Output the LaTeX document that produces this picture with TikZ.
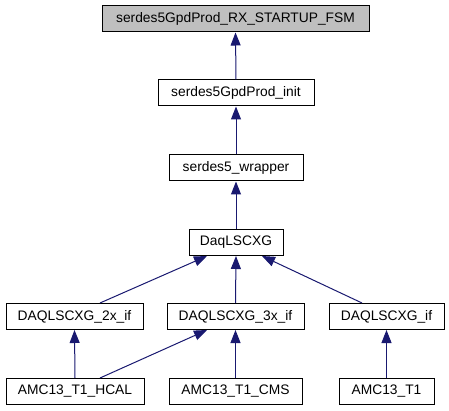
\documentclass[tikz,border=0pt]{standalone}
\usepackage{fontspec}
\setmainfont{Liberation Sans}
\usetikzlibrary{arrows.meta}
\definecolor{edgecol}{HTML}{191970}
\definecolor{topfill}{HTML}{BFBFBF}
\tikzset{
  cls/.style={draw=black, line width=1pt, fill=white, minimum height=26pt, inner sep=0pt, font=\fontsize{13.8}{16}\selectfont},
  edge/.style={draw=edgecol, line width=1pt, -{Triangle[length=13pt,width=10pt,fill=edgecol]}}
}
\begin{document}
\begin{tikzpicture}[x=1pt,y=-1pt]
\useasboundingbox (0,0) rectangle (449,411);
\node[cls, fill=topfill, minimum width=267pt] (top) at (235.5,19) {serdes5GpdProd\_RX\_STARTUP\_FSM};
\node[cls, minimum width=156pt] (init) at (236,93) {serdes5GpdProd\_init};
\node[cls, minimum width=134pt] (wrap) at (236,168) {serdes5\_wrapper};
\node[cls, minimum width=94pt] (daq) at (236,242.5) {DaqLSCXG};
\node[cls, minimum width=137pt] (if2) at (74.5,316.5) {DAQLSCXG\_2x\_if};
\node[cls, minimum width=137pt] (if3) at (235.5,316.5) {DAQLSCXG\_3x\_if};
\node[cls, minimum width=115pt] (if1) at (386.5,316.5) {DAQLSCXG\_if};
\node[cls, minimum width=138pt] (hcal) at (75,391.5) {AMC13\_T1\_HCAL};
\node[cls, minimum width=133pt] (cms) at (235.5,391.5) {AMC13\_T1\_CMS};
\node[cls, minimum width=95pt] (t1) at (386.5,391.5) {AMC13\_T1};
\draw[edge] (init.north) -- (top.south);
\draw[edge] (wrap.north) -- (init.south);
\draw[edge] (daq.north) -- (wrap.south);
\draw[edge] ([xshift=25.5pt]if2.north) -- ([xshift=-29pt]daq.south);
\draw[edge] (if3.north) -- (daq.south);
\draw[edge] ([xshift=-24.5pt]if1.north) -- ([xshift=26pt]daq.south);
\draw[edge] (hcal.north) -- (if2.south);
\draw[edge] ([xshift=25pt]hcal.north) -- ([xshift=-28.5pt]if3.south);
\draw[edge] (cms.north) -- (if3.south);
\draw[edge] (t1.north) -- (if1.south);
\end{tikzpicture}
\end{document}
